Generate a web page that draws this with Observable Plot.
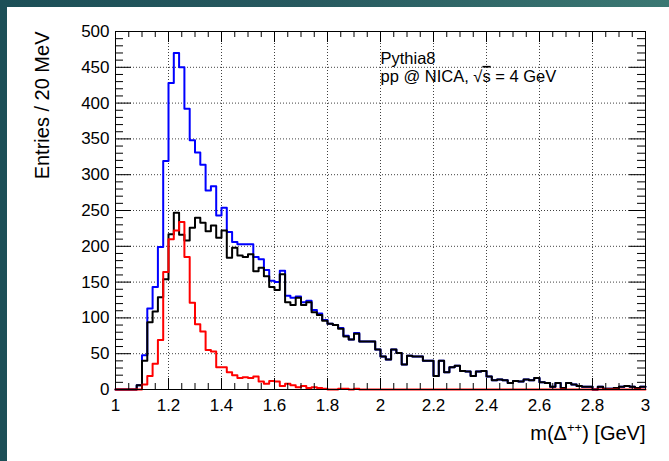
<!DOCTYPE html>
<html><head><meta charset="utf-8">
<script src="https://cdn.jsdelivr.net/npm/d3@7"></script>
<script src="https://cdn.jsdelivr.net/npm/@observablehq/plot@0.6"></script>
<style>
html,body{margin:0;padding:0;width:669px;height:461px;overflow:hidden;}
body{background:linear-gradient(90deg,#1c4f57 0%,#27595f 45%,#3b7873 100%);}
#panel{position:absolute;left:7px;top:7px;width:662px;height:454px;background:#fff;}
#panel svg text{font-family:"Liberation Sans",Arial,Helvetica,sans-serif;}
</style></head><body><div id="panel"></div>
<script>
// histogram binning: 20 MeV bins from 1.00 to 3.00 GeV
const binStart = 1.0, binWidth = 0.02;

// black histogram
const blackCounts = [0,0,0,0,6,40,94,109,129,154,
 217,247,216,208,226,240,233,221,229,212,
 222,184,198,187,185,189,165,170,158,143,
 139,161,122,118,128,118,122,108,104,96,
 92,90,85,74,70,78,67,67,67,56,
 46,42,56,51,35,47,46,46,40,40,
 19,40,24,31,33,26,25,19,25,26,
 18,13,14,13,9,12,11,14,13,16,
 10,9,4,9,2,9,7,5,4,4,
 0,4,1,1,2,4,5,4,2,4];

// blue histogram
const blueCounts = [0,0,0,0,6,48,113,143,199,319,
 428,470,450,392,348,331,314,278,284,243,
 254,220,206,203,203,203,185,182,167,152,
 150,166,131,128,130,122,124,111,106,97,
 92,90,86,75,70,79,67,67,67,56,
 46,42,56,51,35,47,46,46,40,40,
 19,40,24,31,33,26,25,19,25,26,
 18,13,14,13,9,12,11,14,13,16,
 10,9,4,9,2,9,7,5,4,4,
 0,4,1,1,2,4,5,4,2,4];

// red histogram
const redCounts = [0,0,0,0,0,7,19,36,69,164,
 210,222,234,185,121,91,81,55,53,31,
 31,24,20,16,17,16,18,11,8,12,
 11,5,8,6,3,5,2,3,2,1,
 0,0,1,1,0,1,0,0,0,0,
 0,0,0,0,0,0,0,0,0,0,
 0,0,0,0,0,0,0,0,0,0,
 0,0,0,0,0,0,0,0,0,0,
 0,0,0,0,0,0,0,0,0,0,
 0,0,0,0,0,0,0,0,0,0];

const xTickValues = [1,1.2,1.4,1.6,1.8,2,2.2,2.4,2.6,2.8,3];
const xTickLabels = ["1","1.2","1.4","1.6","1.8","2","2.2","2.4","2.6","2.8","3"];
const yTickValues = [0,50,100,150,200,250,300,350,400,450,500];
const yTickLabels = ["0","50","100","150","200","250","300","350","400","450","500"];
const xTitle = "m(Δ++) [GeV]";
const yTitle = "Entries / 20 MeV";
const annot1 = "Pythia8";
const annot2 = "pp @ NICA, √s = 4 GeV";

function steps(counts){
  const pts = [];
  counts.forEach((v,i)=>{
    const lo = binStart + i*binWidth;
    pts.push({x: lo, y: v}, {x: lo + binWidth, y: v});
  });
  return pts;
}

const W = 662, H = 454, mL = 108, mR = 24, mT = 24, mB = 72;
const fw = W - mL - mR, fh = H - mT - mB;
const xMinor = d3.range(1, 3.0001, 0.05).filter(v => Math.abs(v*5 - Math.round(v*5)) > 1e-6);
const yMinor = d3.range(0, 500.001, 10).filter(v => v % 50 !== 0);
const xGrid = xTickValues.filter(v => v > 1 && v < 3);
const yGrid = yTickValues.filter(v => v > 0 && v < 500);

const chart = Plot.plot({
  width: W, height: H,
  marginLeft: mL, marginRight: mR, marginTop: mT, marginBottom: mB,
  style: {background: "transparent", fontFamily: "Liberation Sans, Arial, sans-serif"},
  x: {domain: [1, 3], axis: null},
  y: {domain: [0, 500], axis: null},
  marks: [
    Plot.ruleX(xGrid, {x: d => d, stroke: "#000", strokeOpacity: 0.75, strokeDasharray: "1,2"}),
    Plot.ruleY(yGrid, {y: d => d, stroke: "#000", strokeOpacity: 0.75, strokeDasharray: "1,2"}),
    Plot.line(steps(blueCounts), {x: "x", y: "y", stroke: "#0000ff", strokeWidth: 2}),
    Plot.line(steps(blackCounts), {x: "x", y: "y", stroke: "#000000", strokeWidth: 2}),
    Plot.line(steps(redCounts), {x: "x", y: "y", stroke: "#ff0000", strokeWidth: 2}),
    // ticks (inward, ROOT style)
    Plot.tickY(yTickValues, {y: d => d, insetRight: fw - 16, stroke: "#000"}),
    Plot.tickY(yMinor, {y: d => d, insetRight: fw - 8, stroke: "#000"}),
    Plot.tickY(yTickValues, {y: d => d, insetLeft: fw - 16, stroke: "#000"}),
    Plot.tickY(yMinor, {y: d => d, insetLeft: fw - 8, stroke: "#000"}),
    Plot.tickX(xTickValues, {x: d => d, insetTop: fh - 11, stroke: "#000"}),
    Plot.tickX(xMinor, {x: d => d, insetTop: fh - 6, stroke: "#000"}),
    Plot.tickX(xTickValues, {x: d => d, insetBottom: fh - 11, stroke: "#000"}),
    Plot.tickX(xMinor, {x: d => d, insetBottom: fh - 6, stroke: "#000"}),
    Plot.frame({stroke: "#000", strokeWidth: 1}),
    // tick labels
    Plot.text(yTickValues, {y: d => d, frameAnchor: "left", text: (d, i) => yTickLabels[i], textAnchor: "end", dx: -6, fontSize: 17, fill: "#000"}),
    Plot.text(xTickValues, {x: d => d, frameAnchor: "bottom", text: (d, i) => xTickLabels[i], dy: 16, lineAnchor: "middle", fontSize: 17, fill: "#000"}),
    // axis titles
    Plot.text([xTitle], {frameAnchor: "bottom-right", textAnchor: "end", lineAnchor: "middle", dy: 44, fontSize: 20, fill: "#000"}),
    Plot.text([yTitle], {frameAnchor: "top-left", textAnchor: "end", lineAnchor: "middle", rotate: -90, dx: -73, fontSize: 20, fill: "#000"}),
    // annotations
    Plot.text([annot1], {x: 2, y: 462, textAnchor: "start", fontSize: 16.5, fill: "#000"}),
    Plot.text([annot2], {x: 2, y: 437, textAnchor: "start", fontSize: 16.5, fill: "#000"})
  ]
});
document.getElementById("panel").appendChild(chart);

// rich text: overline on s, superscript ++
const svg = d3.select(chart);
svg.selectAll("text").each(function(){
  const t = d3.select(this);
  const s = this.textContent;
  if (s === annot2) {
    t.text(null);
    t.append("tspan").text("pp @ NICA, √");
    t.append("tspan").text("s").style("text-decoration", "overline");
    t.append("tspan").text(" = 4 GeV");
  } else if (s === xTitle) {
    t.text(null);
    t.append("tspan").text("m(Δ");
    t.append("tspan").text("++").attr("font-size", 13).attr("dy", -8);
    t.append("tspan").text(") [GeV]").attr("dy", 8);
  }
});
</script>
</body></html>
